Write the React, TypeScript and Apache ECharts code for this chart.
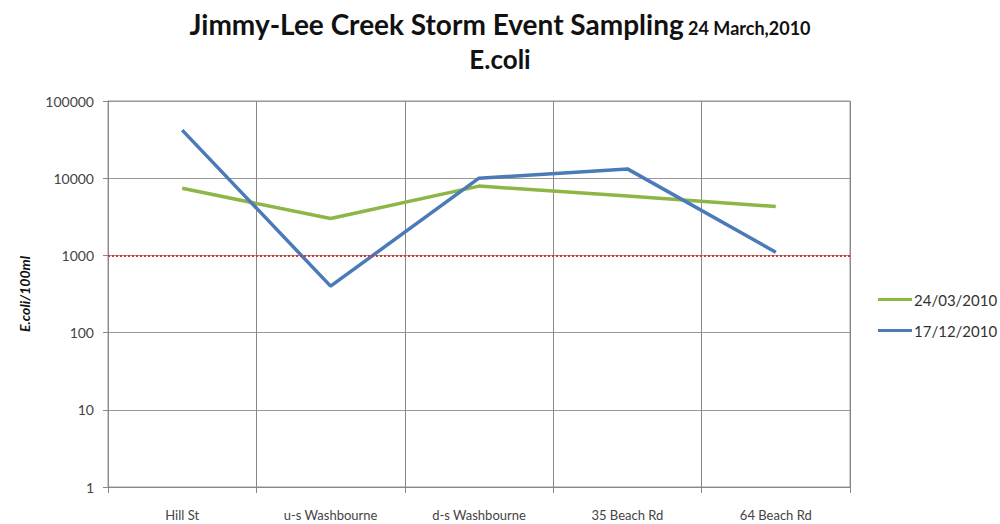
import React, { useEffect, useRef } from "react";
import * as echarts from "echarts";

const categories = ["Hill St", "u-s Washbourne", "d-s Washbourne", "35 Beach Rd", "64 Beach Rd"];
const series2403 = [7400, 3000, 7900, 5900, 4300];
const series1712 = [42000, 400, 10000, 13200, 1100];
const guideline = 1000;
const yTicks = [1, 10, 100, 1000, 10000, 100000];

export default function App() {
  const ref = useRef<HTMLDivElement>(null);
  useEffect(() => {
    if (!ref.current) return;
    const chart = echarts.init(ref.current, null, { renderer: "svg" });
    const font = "Lato, 'Open Sans', sans-serif";
    chart.setOption({
      animation: false,
      backgroundColor: "#ffffff",
      textStyle: { fontFamily: font },
      title: {
        left: "center",
        top: 0,
        text: "{a|Jimmy-Lee Creek Storm Event Sampling} {b|24 March,2010}\n{c|E.coli}",
        textStyle: {
          rich: {
            a: { fontFamily: font, fontSize: 28, fontWeight: "bold", color: "#111", lineHeight: 38 },
            b: { fontFamily: font, fontSize: 18, fontWeight: "bold", color: "#111", lineHeight: 24, verticalAlign: "bottom", padding: [0, 0, 6, 0] },
            c: { fontFamily: font, fontSize: 26, fontWeight: "bold", color: "#111", lineHeight: 32 },
          },
        },
      },
      legend: {
        orient: "vertical",
        left: 873,
        top: 287,
        itemWidth: 34,
        itemHeight: 3,
        itemGap: 16,
        icon: "rect",
        textStyle: { fontFamily: font, fontSize: 15, color: "#333", padding: [0, 0, 0, -3] },
        data: ["24/03/2010", "17/12/2010"],
      },
      grid: {
        left: 108,
        right: 150,
        top: 101,
        bottom: 37,
        show: true,
        borderColor: "#999",
        borderWidth: 1,
      },
      xAxis: {
        type: "category",
        data: categories,
        boundaryGap: true,
        axisLine: { lineStyle: { color: "#888" } },
        axisTick: { show: true, length: 6, lineStyle: { color: "#888" } },
        splitLine: { show: true, lineStyle: { color: "#888" } },
        axisLabel: { color: "#444", fontSize: 13, margin: 21, fontFamily: font },
      },
      yAxis: {
        type: "log",
        logBase: 10,
        min: yTicks[0],
        max: yTicks[yTicks.length - 1],
        name: "E.coli/100ml",
        nameLocation: "middle",
        nameGap: 77,
        nameTextStyle: { fontFamily: font, fontSize: 14, fontWeight: "bold", fontStyle: "italic", color: "#111" },
        axisLine: { show: true, lineStyle: { color: "#888" } },
        axisTick: { show: true, length: 5, lineStyle: { color: "#888" } },
        splitLine: { show: true, lineStyle: { color: "#999" } },
        minorTick: { show: false },
        axisLabel: { color: "#444", fontSize: 14, margin: 14, fontFamily: font, formatter: (v: number) => String(Math.round(v)) },
      },
      series: [
        {
          name: "24/03/2010",
          type: "line",
          data: series2403,
          symbol: "none",
          lineStyle: { color: "#8db646", width: 3.5 },
          itemStyle: { color: "#8db646" },
          z: 3,
        },
        {
          name: "17/12/2010",
          type: "line",
          data: series1712,
          symbol: "none",
          lineStyle: { color: "#4a7ab8", width: 3.5 },
          itemStyle: { color: "#4a7ab8" },
          z: 4,
          markLine: {
            silent: true,
            symbol: "none",
            label: { show: false },
            lineStyle: { color: "#e03030", type: "dotted", width: 2 },
            data: [{ yAxis: guideline }],
          },
        },
      ],
    });
    return () => chart.dispose();
  }, []);
  return <div ref={ref} style={{ position: "fixed", left: 0, top: 0, width: 1000, height: 524 }} />;
}
